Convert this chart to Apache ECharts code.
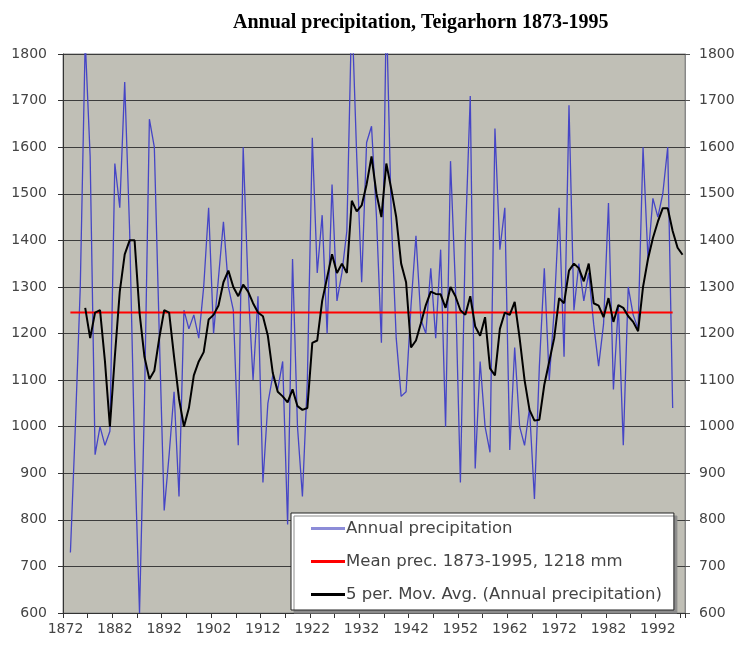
<!DOCTYPE html>
<html>
<head>
<meta charset="utf-8">
<script src="https://cdn.jsdelivr.net/npm/echarts@6/dist/echarts.min.js"></script>
<style>
html,body{margin:0;padding:0;background:#fff;}
#c{width:744px;height:652px;}
</style>
</head>
<body>
<div id="c"></div>
<script>
// Category axis: years 1872..1997
const firstYear = 1872, lastYear = 1997;
const years = [];
for (let y = firstYear; y <= lastYear; y++) years.push(String(y));

const yTicks = [600, 700, 800, 900, 1000, 1100, 1200, 1300, 1400, 1500, 1600, 1700, 1800];

// Annual precipitation (mm), 1873..1995
const precipStart = 1873;
const precip = [
  730, 1000, 1300, 1830, 1580, 940, 1000, 960, 990, 1565,      // 1873-1882
  1470, 1740, 1420, 950, 600, 1050, 1660, 1600, 1200, 820,     // 1883-1892
  940, 1075, 850, 1250, 1210, 1240, 1190, 1300, 1470, 1200,    // 1893-1902
  1320, 1440, 1300, 1250, 960, 1600, 1300, 1100, 1280, 880,    // 1903-1912
  1050, 1110, 1080, 1140, 790, 1360, 1000, 850, 1100, 1620,    // 1913-1922
  1330, 1454, 1200, 1520, 1270, 1330, 1420, 1900, 1580, 1310,  // 1923-1932
  1610, 1645, 1450, 1180, 1900, 1450, 1190, 1065, 1075, 1260,  // 1933-1942
  1410, 1230, 1200, 1340, 1190, 1380, 1000, 1570, 1300, 880,   // 1943-1952
  1400, 1710, 910, 1140, 1000, 945, 1640, 1380, 1470, 950,     // 1953-1962
  1170, 1000, 960, 1040, 845, 1130, 1340, 1100, 1250, 1470,    // 1963-1972
  1150, 1690, 1250, 1350, 1270, 1330, 1220, 1130, 1220, 1480,  // 1973-1982
  1080, 1260, 960, 1300, 1240, 1210, 1600, 1360, 1490, 1450,   // 1983-1992
  1500, 1600, 1040                                             // 1993-1995
];

// 5 per. moving average as drawn, 1876..1997
const maStart = 1876;
const movAvg = [
  1255, 1190, 1245, 1250, 1140, 1000, 1150, 1290, 1370, 1400,  // 1876-1885
  1400, 1245, 1150, 1102, 1120, 1190, 1250, 1245, 1150, 1060,  // 1886-1895
  1000, 1040, 1110, 1140, 1160, 1230, 1240, 1260, 1310, 1335,  // 1896-1905
  1300, 1280, 1305, 1290, 1265, 1245, 1237, 1195, 1115, 1075,  // 1906-1915
  1065, 1052, 1080, 1044, 1036, 1040, 1180, 1185, 1270, 1320,  // 1916-1925
  1370, 1330, 1350, 1330, 1485, 1462, 1475, 1520, 1580, 1500,  // 1926-1935
  1450, 1565, 1510, 1450, 1350, 1310, 1170, 1185, 1222, 1261,  // 1936-1945
  1290, 1285, 1284, 1255, 1300, 1280, 1250, 1240, 1280, 1215,  // 1946-1955
  1195, 1235, 1125, 1110, 1210, 1245, 1240, 1268, 1190, 1100,  // 1956-1965
  1036, 1013, 1015, 1090, 1140, 1190, 1276, 1265, 1335, 1350,  // 1966-1975
  1340, 1312, 1350, 1265, 1260, 1235, 1276, 1225, 1261, 1255,  // 1976-1985
  1237, 1225, 1205, 1300, 1360, 1405, 1440, 1469, 1469, 1420,  // 1986-1995
  1384, 1369                                                   // 1996-1997
];

// Mean line as drawn
const meanValue = 1245;
const meanFrom = '1873', meanTo = '1995';

const seriesNames = [
  'Annual precipitation',
  'Mean prec. 1873-1995, 1218 mm',
  '5 per. Mov. Avg. (Annual precipitation)'
];

function alignToYears(values, startYear) {
  const out = years.map(() => null);
  values.forEach((v, i) => { out[startYear - firstYear + i] = v; });
  return out;
}

const chart = echarts.init(document.getElementById('c'), null, {renderer: 'canvas'});
const axisFont = {fontFamily: 'DejaVu Sans, Verdana, sans-serif', fontSize: 14, color: '#444444'};
const plainNum = v => String(v);

chart.setOption({
  animation: false,
  backgroundColor: '#ffffff',
  title: {
    text: 'Annual precipitation, Teigarhorn 1873-1995',
    left: 228, top: 8,
    textStyle: {fontFamily: 'Liberation Serif, Times New Roman, serif', fontWeight: 'bold', fontSize: 20, color: '#000'}
  },
  grid: {
    left: 63, right: 59, top: 54, bottom: 39,
    containLabel: false, outerBoundsMode: 'none',
    show: true, backgroundColor: '#C0BFB6', borderColor: '#8a8a8a', borderWidth: 1
  },
  legend: {
    orient: 'vertical',
    left: 291, top: 513,
    padding: [6, 12, 6, 20],
    itemGap: 14,
    icon: 'rect',
    itemWidth: 34, itemHeight: 3,
    backgroundColor: '#ffffff',
    borderColor: '#222', borderWidth: 1,
    shadowColor: '#8c8c8c', shadowBlur: 0, shadowOffsetX: 3, shadowOffsetY: 3,
    textStyle: {fontFamily: 'DejaVu Sans, Verdana, sans-serif', fontSize: 16.5, color: '#444444', lineHeight: 19, padding: [0, 0, 0, -4]},
    data: [
      {name: seriesNames[0], itemStyle: {color: '#8c8cd8'}},
      {name: seriesNames[1]},
      {name: seriesNames[2]}
    ]
  },
  xAxis: {
    type: 'category',
    data: years,
    boundaryGap: true,
    axisLine: {show: true, lineStyle: {color: '#333', width: 1}},
    axisTick: {show: true, interval: 4, length: 5, inside: false, lineStyle: {color: '#333'}},
    axisLabel: Object.assign({interval: 9, margin: 9}, axisFont),
    splitLine: {show: false}
  },
  yAxis: [
    {
      type: 'value', min: yTicks[0], max: yTicks[yTicks.length - 1], interval: 100, position: 'left',
      axisLine: {show: true, lineStyle: {color: '#333'}},
      axisTick: {show: true, length: 5, lineStyle: {color: '#333'}},
      axisLabel: Object.assign({margin: 16, formatter: plainNum}, axisFont),
      splitLine: {show: true, lineStyle: {color: '#3c3c3c', width: 1}}
    },
    {
      type: 'value', min: yTicks[0], max: yTicks[yTicks.length - 1], interval: 100, position: 'right',
      axisLine: {show: true, lineStyle: {color: '#888'}},
      axisTick: {show: true, length: 5, lineStyle: {color: '#555'}},
      axisLabel: Object.assign({margin: 14, formatter: plainNum}, axisFont),
      splitLine: {show: false}
    }
  ],
  series: [
    {
      name: seriesNames[0], type: 'line', yAxisIndex: 0,
      data: alignToYears(precip, precipStart),
      symbol: 'none', clip: true, connectNulls: false, z: 2,
      lineStyle: {color: '#4545c6', width: 1.3},
      itemStyle: {color: '#4545c6'}
    },
    {
      name: seriesNames[1], type: 'line', yAxisIndex: 0,
      data: [[meanFrom, meanValue], [meanTo, meanValue]],
      symbol: 'none', z: 3,
      lineStyle: {color: '#ff0000', width: 2},
      itemStyle: {color: '#ff0000'}
    },
    {
      name: seriesNames[2], type: 'line', yAxisIndex: 0,
      data: alignToYears(movAvg, maStart),
      symbol: 'none', z: 4,
      lineStyle: {color: '#000000', width: 2},
      itemStyle: {color: '#000000'}
    }
  ]
});
</script>
</body>
</html>
